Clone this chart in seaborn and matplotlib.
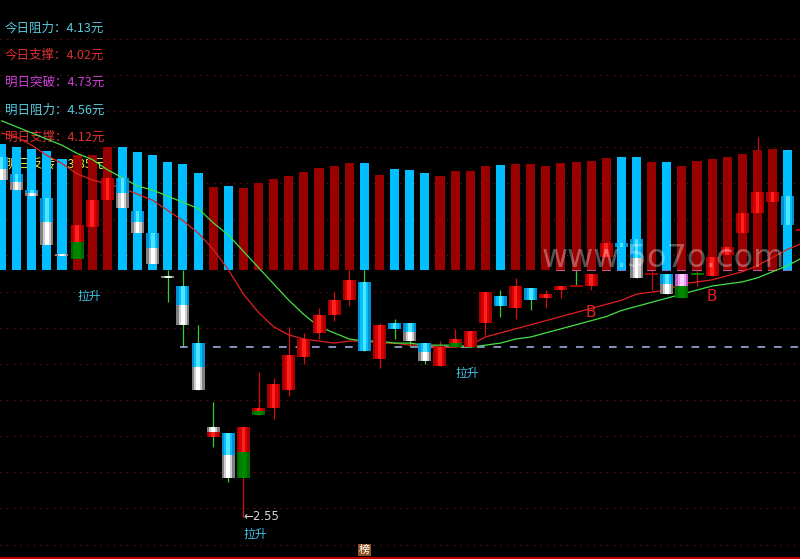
import matplotlib
matplotlib.use('Agg')

import numpy as np
import matplotlib.pyplot as plt
import seaborn as sns

# daily candles (price, yuan)
opens  = [4.31, 4.23, 4.15, 4.11, 3.83, 3.81, 3.97, 4.10, 4.21, 4.05,
          3.94, 3.73, 3.68, 3.40, 2.94, 2.96, 2.74, 3.05, 3.08, 3.17,
          3.33, 3.45, 3.54, 3.61, 3.70, 3.32, 3.50, 3.50, 3.40, 3.29,
          3.38, 3.38, 3.50, 3.63, 3.57, 3.67, 3.62, 3.66, 3.68, 3.68,
          3.82, 3.89, 3.91, 3.74, 3.74, 3.62, 3.74, 3.73, 3.83, 3.94,
          4.04, 4.09, 4.12, 3.95]
highs  = [4.31, 4.23, 4.15, 4.11, 3.83, 3.98, 4.10, 4.21, 4.21, 4.05,
          3.94, 3.76, 3.76, 3.49, 3.11, 2.96, 2.99, 3.26, 3.23, 3.48,
          3.45, 3.57, 3.65, 3.76, 3.76, 3.50, 3.52, 3.50, 3.40, 3.41,
          3.47, 3.46, 3.65, 3.66, 3.72, 3.67, 3.66, 3.68, 3.76, 3.74,
          3.89, 3.89, 3.91, 3.77, 3.74, 3.74, 3.77, 3.82, 3.87, 4.04,
          4.41, 4.14, 4.12, 3.96]
lows   = [4.20, 4.15, 4.12, 3.88, 3.83, 3.81, 3.97, 4.10, 4.06, 3.94,
          3.79, 3.60, 3.38, 3.17, 2.89, 2.72, 2.55, 3.05, 3.03, 3.14,
          3.30, 3.42, 3.51, 3.58, 3.36, 3.28, 3.42, 3.38, 3.30, 3.29,
          3.38, 3.38, 3.44, 3.53, 3.52, 3.56, 3.57, 3.62, 3.68, 3.66,
          3.82, 3.87, 3.72, 3.66, 3.64, 3.62, 3.68, 3.73, 3.83, 3.94,
          4.04, 4.09, 3.98, 3.95]
closes = [4.20, 4.15, 4.12, 3.88, 3.83, 3.98, 4.10, 4.21, 4.06, 3.94,
          3.79, 3.72, 3.49, 3.17, 2.99, 2.74, 2.99, 3.08, 3.20, 3.34,
          3.42, 3.54, 3.61, 3.71, 3.36, 3.49, 3.47, 3.41, 3.31, 3.38,
          3.42, 3.46, 3.65, 3.58, 3.68, 3.61, 3.64, 3.68, 3.68, 3.74,
          3.89, 3.87, 3.72, 3.74, 3.64, 3.74, 3.74, 3.82, 3.87, 4.04,
          4.14, 4.14, 3.98, 3.96]
# indicator colouring of each candle body (top part / bottom part)
body_kind = ['cw', 'cw', 'cw', 'cw', 'w', 'rg', 'r', 'r', 'cw', 'cw',
             'cw', 'w', 'cw', 'cw', 'wr', 'cw', 'rg', 'rg', 'r', 'r',
             'r', 'r', 'r', 'r', 'c', 'r', 'c', 'cw', 'cw', 'r',
             'rg', 'r', 'r', 'c', 'r', 'c', 'r', 'r', 'dg', 'r',
             'r', 'c', 'cw', 'dr', 'cw', 'pg', 'gr', 'r', 'r', 'r',
             'r', 'r', 'c', 'r']

# moving averages
ma_red = [4.43, 4.41, 4.37, 4.32, 4.28, 4.23, 4.20, 4.18, 4.16, 4.13,
          4.10, 4.05, 4.00, 3.94, 3.86, 3.76, 3.64, 3.55, 3.48, 3.44,
          3.42, 3.41, 3.40, 3.41, 3.41, 3.40, 3.40, 3.39, 3.39, 3.38,
          3.38, 3.39, 3.43, 3.45, 3.47, 3.49, 3.51, 3.53, 3.55, 3.57,
          3.59, 3.61, 3.64, 3.65, 3.66, 3.69, 3.70, 3.71, 3.73, 3.75,
          3.78, 3.82, 3.86, 3.89]
ma_green = [4.49, 4.46, 4.43, 4.40, 4.37, 4.33, 4.30, 4.25, 4.21, 4.17,
            4.15, 4.12, 4.09, 4.06, 3.99, 3.93, 3.85, 3.77, 3.69, 3.61,
            3.54, 3.48, 3.45, 3.42, 3.41, 3.41, 3.40, 3.40, 3.39, 3.39,
            3.39, 3.38, 3.39, 3.40, 3.42, 3.43, 3.45, 3.47, 3.49, 3.51,
            3.53, 3.56, 3.58, 3.60, 3.62, 3.64, 3.66, 3.68, 3.69, 3.70,
            3.72, 3.75, 3.78, 3.82]

# volume columns (read in pixels of the volume pane)
volume = [126, 123, 121, 119, 111, 115, 115, 123, 123, 118,
          115, 108, 106, 97, 83, 84, 82, 87, 91, 94,
          98, 102, 104, 107, 107, 95, 101, 100, 97, 94,
          99, 99, 104, 105, 106, 106, 104, 107, 108, 109,
          112, 113, 113, 108, 108, 104, 109, 111, 113, 116,
          120, 121, 120]
vol_dir = list('ddddduuudddddduduuuuuuuududdduuuuduuuuuuudduduuuuuuud')

# text panel
info_names = ['今日阻力', '今日支撑', '明日突破', '明日阻力', '明日支撑', '明日反转']
info_values = [4.13, 4.02, 4.73, 4.56, 4.12, 3.85]
lashen_idx = [5, 30, 16]
lashen_price = [3.63, 3.25, 2.46]
b_idx = [39, 47]
b_price = [3.55, 3.63]
support_level = 3.38
support_start = 12

# ---- layout ----
W, H = 800, 559
PX_PER_BAR = 15.12
PX_PER_YUAN = 204
Y_TOP = 2.55 + 516.5 / PX_PER_YUAN
Y_BOT = Y_TOP - H / PX_PER_YUAN
XLIM = (-1.5 / PX_PER_BAR, (W - 1.5) / PX_PER_BAR)
VOL_BASE_PX = 270

sns.set_theme(style='dark', rc={'figure.facecolor': 'black', 'axes.facecolor': 'black'})
plt.rcParams['font.family'] = ['Noto Sans CJK SC', 'DejaVu Sans']

fig = plt.figure(figsize=(W / 100, H / 100), dpi=100)
ax_back = fig.add_axes([0, 0, 1, 1], zorder=0)
ax_vol = fig.add_axes([0, 0, 1, 1], zorder=1)
ax = fig.add_axes([0, 0, 1, 1], zorder=2)

for a in (ax_back, ax):
    a.set_xlim(*XLIM)
    a.set_ylim(Y_BOT, Y_TOP)
    a.set_axis_off()

# grid
for k in range(15):
    lvl = Y_TOP - (38.5 + 36.15 * k) / PX_PER_YUAN
    ax_back.axhline(lvl, color='#8a1414', lw=0.8, ls=(0, (1, 5)), zorder=1)

# info lines (sit behind the volume columns)
info_colors = ['#55ccdd', '#e03030', '#d040d8', '#55ccdd', '#e03030', '#e6e640']
for i, (name, val) in enumerate(zip(info_names, info_values)):
    ax_back.text(5 / W, 1 - (28 + 27.3 * i) / H, f'{name}：{val:.2f}元',
                 transform=ax_back.transAxes, color=info_colors[i],
                 fontsize=9, ha='left', va='center', zorder=2)

# wicks, hidden behind the volume columns
idx = np.arange(len(opens))
wick_col = ['#30d030' if k[0] in 'cw' or k == 'dg' else '#d01010' for k in body_kind]
ax_back.vlines(idx, lows, highs, colors=wick_col, lw=0.9, zorder=3)

# volume columns
sns.barplot(x=np.arange(len(volume)), y=volume, hue=vol_dir,
            palette={'u': '#990000', 'd': '#00beff'}, dodge=False, width=0.6,
            saturation=1, legend=False, errorbar=None, linewidth=0, ax=ax_vol)
for i in range(37, len(volume)):
    ax_vol.bar(i, 1.6, bottom=-1.2, width=0.6, linewidth=0,
               color='#c8509c' if vol_dir[i] == 'u' else '#8070e0')
ax_vol.set_xlim(*XLIM)
ax_vol.set_ylim(VOL_BASE_PX - H, VOL_BASE_PX)
ax_vol.set_axis_off()

# moving averages
sns.lineplot(x=idx, y=ma_red, color='#e02020', lw=0.9, ax=ax, zorder=3)
sns.lineplot(x=idx, y=ma_green, color='#44e044', lw=0.9, ax=ax, zorder=3)

ax.hlines(support_level, support_start - 0.2, XLIM[1] + 1, colors='#a8b8f0',
          lw=1.1, linestyles=[(0, (5, 5.8))], zorder=2)

# candle bodies with a rounded shading
SHADES = {
    'c': ['#0090d0', '#00c0ff', '#50e4ff'],
    'w': ['#808080', '#cfcfcf', '#ffffff'],
    'r': ['#a80000', '#d80000', '#ff2020'],
    'g': ['#006800', '#008000', '#008800'],
    'p': ['#c060c0', '#f0a0f0', '#ffd0ff'],
    'd': ['#a00000', '#a00000', '#a00000'],
}
BODY_W = 13 / PX_PER_BAR
MIN_H = 2 / PX_PER_YUAN


def shaded(x, lo, hi, key):
    for frac, col in zip((1.0, 0.62, 0.28), SHADES[key]):
        ax.bar(x, hi - lo, bottom=lo, width=BODY_W * frac, color=col,
               linewidth=0, zorder=5)


for i, kind in enumerate(body_kind):
    lo, hi = min(opens[i], closes[i]), max(opens[i], closes[i])
    if hi - lo < MIN_H:
        mid = (hi + lo) / 2
        lo, hi = mid - MIN_H / 2, mid + MIN_H / 2
    if kind in ('dg', 'dr'):
        shaded(i, lo, hi, 'd')
    elif kind == 'gr':
        shaded(i, lo, hi, 'g')
    elif len(kind) == 1:
        shaded(i, lo, hi, kind)
    else:
        mid = (hi + lo) / 2
        shaded(i, mid, hi, kind[0])
        shaded(i, lo, mid, kind[1])

# annotations
for x, y in zip(lashen_idx, lashen_price):
    ax.text(x, y, '拉升', color='#40c4e8', fontsize=8.5, ha='left', va='center', zorder=8)
for x, y in zip(b_idx, b_price):
    ax.text(x, y, 'B', color='#e02020', fontsize=11, ha='center', va='center',
            family='DejaVu Sans', zorder=8)
low_i = int(np.argmin(lows))
ax.text(low_i, lows[low_i], f'←{lows[low_i]:.2f}', color='#d8d8d8', fontsize=8.5,
        ha='left', va='center', family='DejaVu Sans', zorder=8)

ax.text(24, Y_TOP - 550 / PX_PER_YUAN, '榜', color='white', fontsize=8,
        ha='center', va='center', zorder=8,
        bbox=dict(boxstyle='square,pad=0.08', facecolor='#8c5424', edgecolor='none'))

ax.text(0.829, 0.538, 'www.5o7o.com', transform=ax.transAxes, fontsize=23,
        color='white', alpha=0.33, ha='center', va='center',
        family='DejaVu Sans', zorder=10)

ax.plot([0, 1], [1.5 / H, 1.5 / H], transform=ax.transAxes, color='#c80000', lw=1.4, zorder=9)

fig.savefig('out.png', dpi=100, facecolor='black')
plt.close(fig)
